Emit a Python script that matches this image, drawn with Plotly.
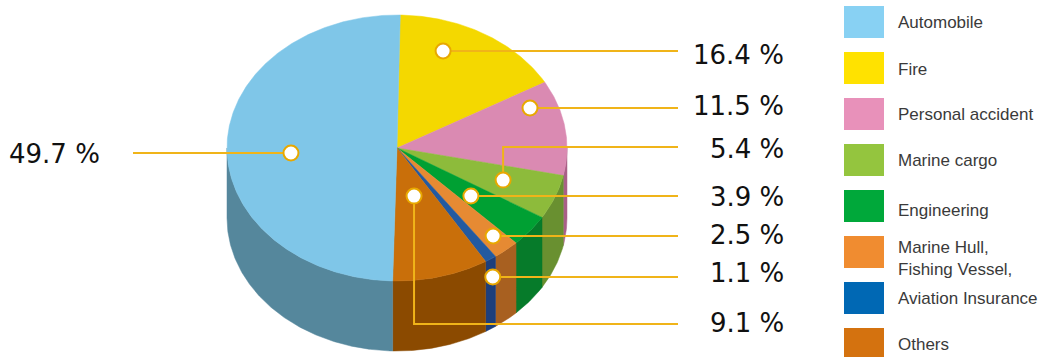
import numpy as np
import plotly.graph_objects as go

# ---------------- data ----------------
categories = ["Automobile", "Fire", "Personal accident", "Marine cargo", "Engineering",
              "Marine Hull,<br>Fishing Vessel,", "Aviation Insurance", "Others"]
shares = [49.7, 16.4, 11.5, 5.4, 3.9, 2.5, 1.1, 9.1]
pie_order = [1, 2, 3, 4, 5, 6, 7, 0]          # clockwise from 12 o'clock
label_texts = [f"{v} %" for v in shares]

# ---------------- styles ----------------
top_colors = ["#7FC6E8", "#F4D800", "#DA8AB2", "#8DBB3B", "#00A033", "#E68A33", "#235AA0", "#C96F0A"]
side_colors = ["#55879C", "#B09C00", "#A96087", "#699030", "#067B2A", "#A86020", "#1D3F7C", "#8B4A00"]
legend_colors = ["#88D1F3", "#FFE200", "#E891BA", "#94C53E", "#00A83A", "#F08C30", "#0068B4", "#D4720F"]
LEADER = "#F0B419"

# pie geometry (pixel-like plot units)
CX, CY, RX, RY, DEPTH, ROT = 397, 148, 170, 133, 70, 1.1

# label layout: marker (angle deg clockwise from top, radius fraction), line y, text y
marker_pos = [(265.1, 0.626), (20.2, 0.785), (69.0, 0.838), (111.1, 0.669),
              (129.7, 0.565), (139.8, 0.876), (149.8, 1.12), (164.5, 0.375)]
line_y = [153, 51, 108, 147, 196, 236, 277, 324]
text_y = [153.5, 55, 106, 148.5, 197, 235, 272.5, 322.5]
RIGHT_LINE_END, RIGHT_TEXT_X, LEFT_LINE_END, LEFT_TEXT_X = 678, 786, 133, 102

# legend layout
LEG_X0, LEG_X1, LEG_TOP, LEG_H, LEG_STEP, LEG_TEXT_X = 844, 884, 6, 32, 46, 896
legend_text_dy = [0, 1, 0, 0, 4, 6, 0, 0]


def pt(theta, r=1.0, dz=0.0):
    t = np.radians(theta)
    return CX + r * RX * np.sin(t), CY - r * RY * np.cos(t) + dz


total = sum(shares)
angles = {}
cur = ROT
for i in pie_order:
    span = 360 * shares[i] / total
    angles[i] = (cur, cur + span)
    cur += span

fig = go.Figure()

# side walls (front half only)
for i in pie_order:
    a0, a1 = angles[i]
    lo, hi = max(a0, 90), min(a1, 270)
    if hi <= lo:
        continue
    th = np.linspace(lo, hi, max(4, int((hi - lo) * 2)))
    xt, yt = pt(th)
    xb, yb = pt(th[::-1], dz=DEPTH)
    xs = np.concatenate([xt, xb, xt[:1]])
    ys = np.concatenate([yt, yb, yt[:1]])
    fig.add_trace(go.Scatter(x=xs, y=ys, fill="toself", mode="lines",
                             fillcolor=side_colors[i], line=dict(color=side_colors[i], width=0.5),
                             hoverinfo="skip"))

# top faces
for i in pie_order:
    a0, a1 = angles[i]
    th = np.linspace(a0, a1, max(4, int((a1 - a0) * 2)))
    xa, ya = pt(th)
    xs = np.concatenate([[CX], xa, [CX]])
    ys = np.concatenate([[CY], ya, [CY]])
    fig.add_trace(go.Scatter(x=xs, y=ys, fill="toself", mode="lines",
                             fillcolor=top_colors[i], line=dict(color=top_colors[i], width=0.5),
                             name=categories[i], hoverinfo="name"))

# leader lines and markers
mx_all, my_all = [], []
for i in range(len(shares)):
    ang, rr = marker_pos[i]
    mx, my = pt(ang, rr)
    ly = line_y[i]
    if i == 0:
        xs, ys = [mx, LEFT_LINE_END], [ly, ly]
        my = ly
    elif abs(my - ly) > 4:
        xs, ys = [mx, mx, RIGHT_LINE_END], [my, ly, ly]
    else:
        my = ly
        xs, ys = [mx, RIGHT_LINE_END], [ly, ly]
    mx_all.append(mx)
    my_all.append(my)
    fig.add_trace(go.Scatter(x=xs, y=ys, mode="lines", line=dict(color=LEADER, width=2),
                             hoverinfo="skip"))

fig.add_trace(go.Scatter(x=mx_all, y=my_all, mode="markers",
                         marker=dict(symbol="circle", size=15, color="white",
                                     line=dict(color="#E8A800", width=2)),
                         hoverinfo="skip"))

# percentage labels
for i, t in enumerate(label_texts):
    fig.add_annotation(x=LEFT_TEXT_X if i == 0 else RIGHT_TEXT_X, y=text_y[i], text=t,
                       showarrow=False, xanchor="right", yanchor="middle",
                       font=dict(family="DejaVu Sans", size=26, color="#111111"))

# legend
for k, name in enumerate(categories):
    y0 = LEG_TOP + LEG_STEP * k
    fig.add_shape(type="rect", xref="x", yref="y", x0=LEG_X0, x1=LEG_X1, y0=y0, y1=y0 + LEG_H,
                  fillcolor=legend_colors[k], line=dict(width=0), layer="above")
    fig.add_annotation(x=LEG_TEXT_X, y=y0 + LEG_H / 2 + legend_text_dy[k], text=name,
                       showarrow=False, xanchor="left", yanchor="middle", align="left",
                       font=dict(family="Liberation Sans", size=17, color="#3A3A3A"))

fig.update_layout(
    width=1048, height=357, margin=dict(l=0, r=0, t=0, b=0),
    paper_bgcolor="white", plot_bgcolor="white", showlegend=False,
    xaxis=dict(range=[0, 1048], visible=False, fixedrange=True),
    yaxis=dict(range=[357, 0], visible=False, fixedrange=True),
)

fig.write_html("out.html")
